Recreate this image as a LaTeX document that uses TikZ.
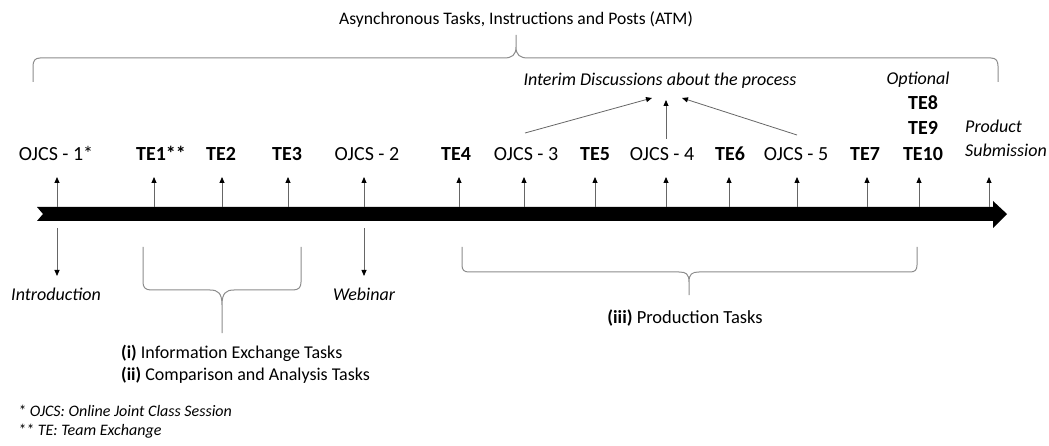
\documentclass[tikz,border=0pt]{standalone}
\usepackage{fontspec}
\setmainfont{Carlito}
\usetikzlibrary{arrows.meta}
\begin{document}
\begin{tikzpicture}[x=1pt,y=-1pt,
  lab/.style={font=\fontsize{20}{24}\selectfont, anchor=base, inner sep=0pt},
  telab/.style={font=\fontsize{20}{24}\selectfont\bfseries, anchor=base, inner sep=0pt},
  itlab/.style={font=\fontsize{18}{22}\selectfont\itshape, anchor=base, inner sep=0pt},
  txt/.style={font=\fontsize{18}{22}\selectfont, anchor=base west, inner sep=0pt},
  foot/.style={font=\fontsize{16}{19}\selectfont\itshape, anchor=base west, inner sep=0pt},
  conn/.style={draw=black!60, line width=0.8pt, -{Triangle[length=6pt,width=5pt,color=black]}},
  bracepath/.style={draw=black!45, line width=1pt},
  bar/.style={fill=black, draw=none}]
\useasboundingbox (0,0) rectangle (1049,446);

% title and top brace
\node[font=\fontsize{17.6}{21}\selectfont, anchor=base, inner sep=0pt] (title) at (516,25) {Asynchronous Tasks, Instructions and Posts (ATM)};
\draw[bracepath] (33,82) -- (33,66) .. controls (33,61) and (35,58) .. (40,58) -- (504,58)
  .. controls (512,58) and (516,55) .. (516,47) -- (516,35) -- (516,47)
  .. controls (516,55) and (520,58) .. (528,58) -- (991,58)
  .. controls (996,58) and (998,61) .. (998,66) -- (998,82);

% timeline bar
\fill[bar] (37,207) -- (993,207) -- (993,201) -- (1007,214) -- (993,228) -- (993,221) -- (37,221) -- (43,214) -- cycle;

% labels
\node[lab]   (o1)  at (56,161)  {OJCS - 1*};
\node[telab] (t1)  at (161,161) {TE1**};
\node[telab] (t2)  at (221,161) {TE2};
\node[telab] (t3)  at (287,161) {TE3};
\node[lab]   (o2)  at (367,161) {OJCS - 2};
\node[telab] (t4)  at (456,161) {TE4};
\node[lab]   (o3)  at (526,161) {OJCS - 3};
\node[telab] (t5)  at (595,161) {TE5};
\node[lab]   (o4)  at (662,161) {OJCS - 4};
\node[telab] (t6)  at (730,161) {TE6};
\node[lab]   (o5)  at (796,161) {OJCS - 5};
\node[telab] (t7)  at (865,161) {TE7};
\node[telab] (t10) at (923,161) {TE10};
\node[telab] (t9)  at (923,135) {TE9};
\node[telab] (t8)  at (923,110) {TE8};
\node[itlab] (opt) at (918,85)  {Optional};
\node[itlab, anchor=base west] (prod) at (965,133) {Product};
\node[itlab, anchor=base west] (subm) at (965,157) {Submission};
\node[itlab] (interim) at (660,86) {Interim Discussions about the process};

% up arrows
\foreach \n/\x in {a1/57,a2/154,a3/222,a4/288,a5/364,a6/459,a7/524,a8/595,a9/666,a10/729,a11/797,a12/867,a13/919,a14/989}{
  \coordinate (\n b) at (\x,207);
  \coordinate (\n u) at (\x,177);
  \draw[conn] (\n b) -- (\n u);
}

% down arrows
\coordinate (d1b) at (57,228);
\coordinate (d1e) at (57,276);
\coordinate (d2b) at (364,228);
\coordinate (d2e) at (364,276);
\draw[conn] (d1b) -- (d1e);
\draw[conn] (d2b) -- (d2e);
\node[itlab] (intro) at (56,301) {Introduction};
\node[itlab] (web) at (364,301) {Webinar};

% interim arrows
\coordinate (s3) at (525,133);
\coordinate (s4) at (666,139);
\coordinate (s5) at (797,135);
\coordinate (e3) at (652,98);
\coordinate (e4) at (666,100);
\coordinate (e5) at (682,98);
\draw[conn] (s3) -- (e3);
\draw[conn] (s4) -- (e4);
\draw[conn] (s5) -- (e5);

% brace (i)/(ii)
\draw[bracepath] (143,247) -- (143,282) .. controls (143,287) and (145,290) .. (151,290) -- (210,290)
  .. controls (218,290) and (222,293) .. (222,305) -- (222,333) -- (222,305)
  .. controls (222,293) and (226,290) .. (234,290) -- (293,290)
  .. controls (299,290) and (301,287) .. (301,282) -- (301,247);
\node[txt] (i1) at (121,358) {\textbf{(i)} Information Exchange Tasks};
\node[txt] (i2) at (121,380) {\textbf{(ii)} Comparison and Analysis Tasks};

% production brace
\draw[bracepath] (462,247) -- (462,265) .. controls (462,270) and (464,272) .. (469,272) -- (679,272)
  .. controls (686,272) and (689,274) .. (689,282) -- (689,295) -- (689,282)
  .. controls (689,274) and (692,272) .. (699,272) -- (910,272)
  .. controls (915,272) and (917,270) .. (917,265) -- (917,247);
\node[font=\fontsize{18.5}{22}\selectfont, anchor=base, inner sep=0pt] (prodtasks) at (685,323) {\textbf{(iii)} Production Tasks};

% footnotes
\node[foot] (f1) at (18,416) {* OJCS: Online Joint Class Session};
\node[foot] (f2) at (18,435) {** TE: Team Exchange};
\end{tikzpicture}
\end{document}
